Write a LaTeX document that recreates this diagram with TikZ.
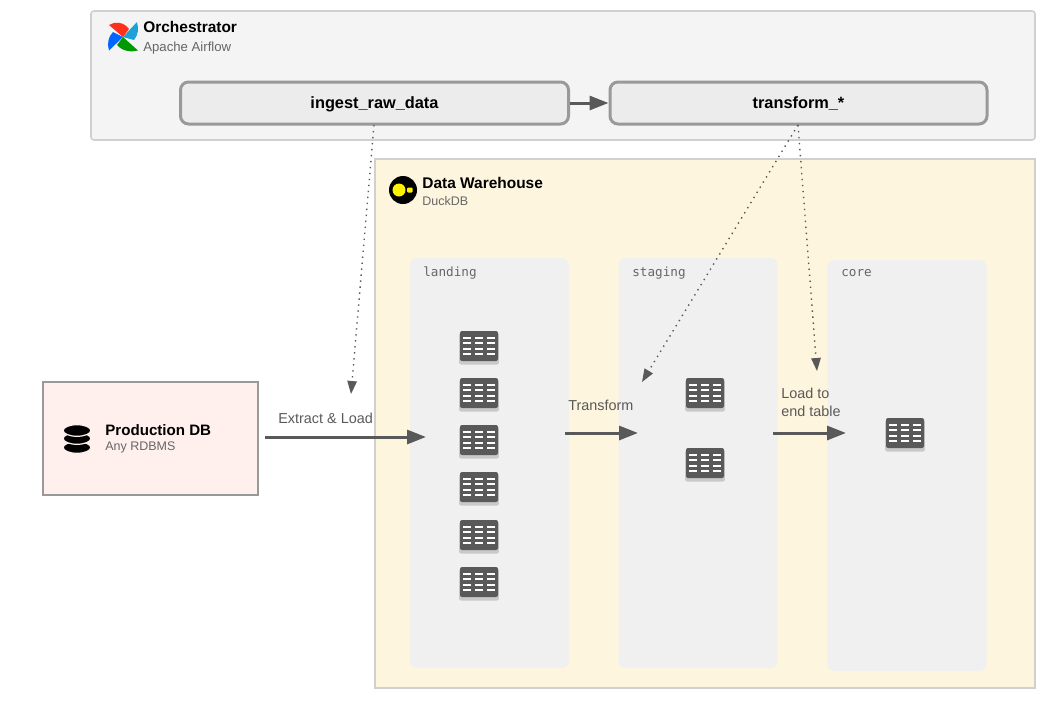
\documentclass[tikz,border=0pt]{standalone}
\usepackage{fontspec}
\setmainfont{Liberation Sans}
\setmonofont{DejaVu Sans Mono}
\usetikzlibrary{arrows.meta, shadows}
\definecolor{panelgray}{HTML}{F4F4F4}
\definecolor{panelline}{HTML}{D0D0D0}
\definecolor{whcream}{HTML}{FEF5DF}
\definecolor{dbrose}{HTML}{FFF0ED}
\definecolor{taskfill}{HTML}{ECECEC}
\definecolor{taskline}{HTML}{999999}
\definecolor{schemafill}{HTML}{F0F0F0}
\definecolor{inkgray}{HTML}{595959}
\definecolor{subgray}{HTML}{666666}
\newcommand{\px}{0.02cm}
\tikzset{
	panel/.style={draw=panelline, line width=1.6*\px, inner sep=0pt},
	taskbox/.style={draw=taskline, fill=taskfill, line width=3*\px, rounded corners=8*\px, minimum height=42*\px, inner sep=0pt, text height=7.2pt, text depth=1pt, font=\fontsize{9.3}{11}\selectfont\bfseries},
	schema/.style={fill=schemafill, rounded corners=7*\px, minimum width=159*\px, inner sep=0pt},
	title/.style={anchor=west, inner sep=0pt, font=\fontsize{8.8}{10}\selectfont\bfseries},
	subtitle/.style={anchor=west, inner sep=0pt, text=subgray, font=\fontsize{7.1}{9}\selectfont},
	monolabel/.style={anchor=west, inner sep=0pt, text=subgray, font=\fontsize{7.2}{9}\selectfont\ttfamily},
	flowlabel/.style={anchor=west, inner sep=0pt, text=inkgray, font=\fontsize{8.2}{10.3}\selectfont, align=left},
	flow/.style={draw=inkgray, line width=3*\px, -{Triangle[length=19*\px, width=14*\px]}},
	trigger/.style={draw=inkgray, line width=1.4*\px, dash pattern=on 1.4*\px off 4.6*\px, -{Triangle[length=13*\px, width=9.5*\px]}},
	tableicon/.style={fill=inkgray, rounded corners=2*\px, minimum width=38*\px, minimum height=30*\px, inner sep=0pt,
		drop shadow={shadow xshift=0pt, shadow yshift=-1.5pt, shadow scale=1.05, opacity=0.16, fill=black},
		path picture={
			\foreach \cx in {-12,0,12} \foreach \cy in {-8,-2.7,2.7,8}
				\fill[white, sharp corners] ([xshift=\cx*\px-4.2*\px, yshift=\cy*\px-1.1*\px]path picture bounding box.center) rectangle ++(8.4*\px,2.2*\px);
		}},
}
\begin{document}
\begin{tikzpicture}[x=0.02cm, y=-0.02cm]
	\useasboundingbox (0,0) rectangle (1055,700);
	% containers
	\node[panel, fill=panelgray, rounded corners=3*\px, minimum width=944*\px, minimum height=129*\px] (orch) at (563,75.5) {};
	\node[panel, fill=whcream, minimum width=660*\px, minimum height=529*\px] (wh) at (705,423.5) {};
	\node[panel, draw=taskline, fill=dbrose, minimum width=215*\px, minimum height=113*\px] (prod) at (150.5,438.5) {};
	\node[schema, minimum height=410*\px] (landing) at (489.5,463) {};
	\node[schema, minimum height=410*\px] (staging) at (698,463) {};
	\node[schema, minimum height=411*\px] (core) at (907,465.5) {};

	% airflow logo
	\fill[red!80!orange!90!white] (123,37) -- (109,25) .. controls (115,21) and (124,22) .. (129,29) -- cycle;
	\fill[cyan!75!teal] (123,37) -- (137,22) .. controls (139,29) and (138,35) .. (134,40) -- cycle;
	\fill[green!60!black] (123,37) -- (138,50.5) .. controls (132,52) and (123,52) .. (117,45) -- cycle;
	\fill[blue!60!cyan] (123,37) -- (109,50.5) .. controls (107,44) and (108,37) .. (113,32) -- cycle;
	% duckdb logo
	\fill[black] (403,190) circle (14);
	\fill[yellow] (399,190) circle (6.5);
	\fill[yellow, rounded corners=1*\px] (407,187.5) rectangle (412.5,192.5);
	% database icon
	\foreach \yy in {447.5,438.5,430.5}
		\fill[black, draw=dbrose, line width=1.2*\px] (77,\yy) ellipse (13.8 and 5.8);

	% titles
	\node[title] (orchtitle) at (143,27) {Orchestrator};
	\node[subtitle, font=\fontsize{7.5}{9}\selectfont] (orchsub) at (143,48) {Apache Airflow};
	\node[title] (whtitle) at (422,183) {Data Warehouse};
	\node[subtitle] (whsub) at (422,201) {DuckDB};
	\node[title, font=\fontsize{8.6}{10}\selectfont\bfseries] (prodtitle) at (105,430) {Production DB};
	\node[subtitle] (prodsub) at (105,447) {Any RDBMS};
	\node[monolabel] (landinglabel) at (423,273) {landing};
	\node[monolabel] (staginglabel) at (632,273) {staging};
	\node[monolabel] (corelabel) at (841,273) {core};

	% tasks
	\node[taskbox, minimum width=388*\px] (ingest) at (374.5,103) {ingest\_raw\_data};
	\node[taskbox, minimum width=377*\px] (transform) at (798.5,103) {transform\_*};
	\draw[flow] (ingest) -- (transform);

	% tables
	\foreach \i/\yy in {1/346,2/393,3/440,4/487,5/535,6/582}
		\node[tableicon] (land\i) at (479,\yy) {};
	\node[tableicon] (stag1) at (705,393) {};
	\node[tableicon] (stag2) at (705,463) {};
	\node[tableicon] (core1) at (905,433) {};

	% flows
	\coordinate (elstart) at (265,437);
	\coordinate (elend) at (426,437);
	\coordinate (tstart) at (565,433);
	\coordinate (tend) at (638,433);
	\coordinate (lstart) at (773,433);
	\coordinate (lend) at (846,433);
	\draw[flow] (elstart) -- (elend);
	\draw[flow] (tstart) -- (tend);
	\draw[flow] (lstart) -- (lend);
	\node[flowlabel] (ellabel) at (278,418) {Extract \& Load};
	\node[flowlabel] (tlabel) at (568,405) {Transform};
	\node[flowlabel] (llabel) at (781,402) {Load to\\end table};

	% triggers
	\coordinate (ingestout) at (374,125);
	\coordinate (transformout) at (798,125);
	\coordinate (elhit) at (351,394);
	\coordinate (thit) at (642,382);
	\coordinate (lhit) at (817,371);
	\draw[trigger] (ingestout) -- (elhit);
	\draw[trigger] (transformout) -- (thit);
	\draw[trigger] (transformout) -- (lhit);
\end{tikzpicture}
\end{document}
